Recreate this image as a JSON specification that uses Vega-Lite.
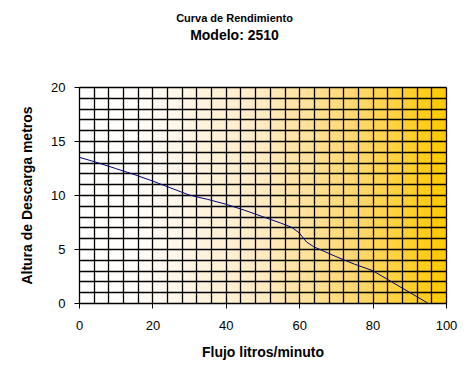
{
  "$schema": "https://vega.github.io/schema/vega-lite/v6.json",
  "autosize": {"type": "none"},
  "padding": {"left": 79, "top": 87, "right": 30, "bottom": 81},
  "width": 367,
  "height": 216,
  "background": "white",
  "title": {
    "text": "Curva de Rendimiento",
    "subtitle": "Modelo: 2510",
    "anchor": "middle",
    "dx": -28,
    "offset": 38,
    "font": "Liberation Sans",
    "fontSize": 11,
    "fontWeight": "bold",
    "color": "black",
    "subtitleFont": "Liberation Sans",
    "subtitleFontSize": 14,
    "subtitleFontWeight": "bold",
    "subtitleColor": "black",
    "subtitlePadding": 5
  },
  "view": {
    "stroke": "#808080",
    "strokeWidth": 1,
    "fill": {
      "gradient": "linear",
      "stops": [
        {"offset": 0, "color": "#FFFFFF"},
        {"offset": 0.15, "color": "#FFFEFB"},
        {"offset": 0.5, "color": "#FFEAC2"},
        {"offset": 0.75, "color": "#FFD870"},
        {"offset": 1, "color": "#FFCA00"}
      ]
    }
  },
  "data": {
    "values": [
      {"flujo": 0, "altura": 13.5},
      {"flujo": 5, "altura": 13.0},
      {"flujo": 10, "altura": 12.45},
      {"flujo": 15, "altura": 11.9},
      {"flujo": 20, "altura": 11.3},
      {"flujo": 25, "altura": 10.65},
      {"flujo": 30, "altura": 10.0},
      {"flujo": 35, "altura": 9.6},
      {"flujo": 40, "altura": 9.15},
      {"flujo": 45, "altura": 8.6},
      {"flujo": 50, "altura": 8.0},
      {"flujo": 55, "altura": 7.4},
      {"flujo": 58, "altura": 7.0},
      {"flujo": 60, "altura": 6.5},
      {"flujo": 62, "altura": 5.65},
      {"flujo": 64, "altura": 5.2},
      {"flujo": 67, "altura": 4.75},
      {"flujo": 70, "altura": 4.3},
      {"flujo": 75, "altura": 3.6},
      {"flujo": 80, "altura": 3.0},
      {"flujo": 84, "altura": 2.2},
      {"flujo": 88, "altura": 1.4},
      {"flujo": 92, "altura": 0.6},
      {"flujo": 95, "altura": 0.0}
    ]
  },
  "mark": {"type": "line", "color": "#000080", "strokeWidth": 1, "clip": true},
  "encoding": {
    "x": {
      "field": "flujo",
      "type": "quantitative",
      "scale": {"domain": [0, 100], "nice": false, "zero": false},
      "axis": {
        "title": "Flujo litros/minuto",
        "values": [0,4,8,12,16,20,24,28,32,36,40,44,48,52,56,60,64,68,72,76,80,84,88,92,96,100],
        "labelExpr": "datum.value % 20 === 0 ? datum.label : ''",
        "tickOpacity": {"condition": {"test": "datum.value % 20 === 0", "value": 1}, "value": 0},
        "labelOverlap": false,
        "labelFlush": false,
        "tickSize": 5,
        "labelPadding": 11,
        "titlePadding": 13
      }
    },
    "y": {
      "field": "altura",
      "type": "quantitative",
      "scale": {"domain": [0, 20], "nice": false, "zero": false},
      "axis": {
        "title": "Altura de Descarga metros",
        "values": [0,1,2,3,4,5,6,7,8,9,10,11,12,13,14,15,16,17,18,19,20],
        "labelExpr": "datum.value % 5 === 0 ? datum.label : ''",
        "tickOpacity": {"condition": {"test": "datum.value % 5 === 0", "value": 1}, "value": 0},
        "labelOverlap": false,
        "labelFlush": false,
        "tickSize": 5,
        "labelPadding": 9,
        "titlePadding": 16
      }
    }
  },
  "config": {
    "axis": {
      "grid": true,
      "gridColor": "black",
      "gridOpacity": 1,
      "gridWidth": 1.3,
      "domainColor": "black",
      "domainWidth": 1,
      "tickColor": "black",
      "tickWidth": 1,
      "labelFont": "Liberation Sans",
      "labelFontSize": 13,
      "labelColor": "black",
      "titleFont": "Liberation Sans",
      "titleFontSize": 14,
      "titleFontWeight": "bold",
      "titleColor": "black"
    }
  }
}
